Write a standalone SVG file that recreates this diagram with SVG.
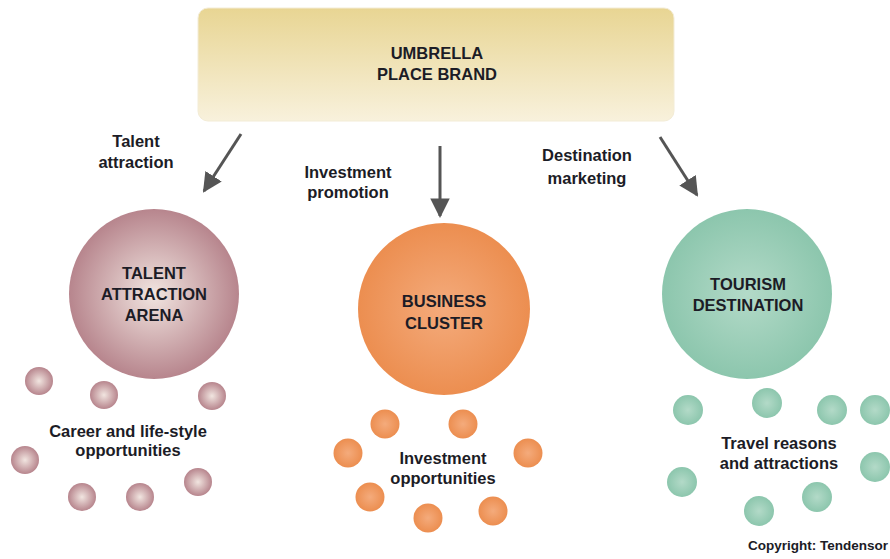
<svg xmlns="http://www.w3.org/2000/svg" width="890" height="559" viewBox="0 0 890 559">
  <defs>
    <linearGradient id="brandFill" x1="0" y1="0" x2="0" y2="1">
      <stop offset="0" stop-color="#e8d593"/>
      <stop offset="1" stop-color="#f8f1dc"/>
    </linearGradient>
    <radialGradient id="mauveFill" cx="0.5" cy="0.5" r="0.5">
      <stop offset="0" stop-color="#f1e5e0"/>
      <stop offset="1" stop-color="#b7858d"/>
    </radialGradient>
    <radialGradient id="orangeFill" cx="0.5" cy="0.5" r="0.5">
      <stop offset="0" stop-color="#f4ab7c"/>
      <stop offset="1" stop-color="#ec8e50"/>
    </radialGradient>
    <radialGradient id="greenFill" cx="0.5" cy="0.5" r="0.5">
      <stop offset="0" stop-color="#b3dac8"/>
      <stop offset="1" stop-color="#8cc6ad"/>
    </radialGradient>
    <marker id="arrowHead" viewBox="0 0 10 10" refX="9" refY="5" markerWidth="6.5" markerHeight="6.5" markerUnits="strokeWidth" orient="auto">
      <path d="M0,0 L10,5 L0,10 z" fill="#555"/>
    </marker>
  </defs>
  <style>
    text { font-family: "Liberation Sans", Arial, sans-serif; font-weight: bold; fill: #1c1c26; text-anchor: middle; }
    .t { font-size: 16.5px; }
    .small { font-size: 13.5px; text-anchor: end; }
    .conn { stroke: #555; stroke-width: 3; fill: none; marker-end: url(#arrowHead); }
    .dot-m { fill: url(#mauveFill); }
    .dot-o { fill: url(#orangeFill); }
    .dot-g { fill: url(#greenFill); }
  </style>

  <rect width="890" height="559" fill="#ffffff"/>

  <!-- umbrella brand box -->
  <g id="umbrella">
    <rect x="198" y="8" width="476" height="113" rx="10" fill="url(#brandFill)" stroke="#f3ecd6" stroke-width="1"/>
    <text class="t" x="437" y="59">UMBRELLA</text>
    <text class="t" x="437" y="80">PLACE BRAND</text>
  </g>

  <!-- connectors -->
  <g id="connectors">
    <line class="conn" x1="241" y1="134" x2="204" y2="191"/>
    <line class="conn" x1="440" y1="146" x2="440" y2="216"/>
    <line class="conn" x1="660" y1="137" x2="697" y2="195"/>
    <text class="t" x="136" y="147">Talent</text>
    <text class="t" x="136" y="168">attraction</text>
    <text class="t" x="348" y="178">Investment</text>
    <text class="t" x="348" y="198">promotion</text>
    <text class="t" x="587" y="161">Destination</text>
    <text class="t" x="587" y="184">marketing</text>
  </g>

  <!-- talent attraction arena -->
  <g id="talent">
    <circle cx="154" cy="294" r="85" fill="url(#mauveFill)"/>
    <text class="t" x="154" y="279">TALENT</text>
    <text class="t" x="154" y="300">ATTRACTION</text>
    <text class="t" x="154" y="321">ARENA</text>
  </g>

  <!-- business cluster -->
  <g id="business">
    <circle cx="444" cy="309" r="86" fill="url(#orangeFill)"/>
    <text class="t" x="444" y="307">BUSINESS</text>
    <text class="t" x="444" y="329">CLUSTER</text>
  </g>

  <!-- tourism destination -->
  <g id="tourism">
    <circle cx="747" cy="294" r="85" fill="url(#greenFill)"/>
    <text class="t" x="748" y="290">TOURISM</text>
    <text class="t" x="748" y="311">DESTINATION</text>
  </g>

  <!-- career and life-style opportunities -->
  <g id="career">
    <circle class="dot-m" cx="39" cy="381" r="14"/>
    <circle class="dot-m" cx="104" cy="395" r="14"/>
    <circle class="dot-m" cx="212" cy="396" r="14"/>
    <circle class="dot-m" cx="25" cy="460" r="14"/>
    <circle class="dot-m" cx="82" cy="497" r="14"/>
    <circle class="dot-m" cx="140" cy="497" r="14"/>
    <circle class="dot-m" cx="198" cy="482" r="14"/>
    <text class="t" x="128" y="437">Career and life-style</text>
    <text class="t" x="128" y="456">opportunities</text>
  </g>

  <!-- investment opportunities -->
  <g id="investment">
    <circle class="dot-o" cx="385" cy="424" r="14.5"/>
    <circle class="dot-o" cx="463" cy="424" r="14.5"/>
    <circle class="dot-o" cx="348" cy="453" r="14.5"/>
    <circle class="dot-o" cx="528" cy="453" r="14.5"/>
    <circle class="dot-o" cx="370" cy="497" r="14.5"/>
    <circle class="dot-o" cx="428" cy="518" r="14.5"/>
    <circle class="dot-o" cx="493" cy="511" r="14.5"/>
    <text class="t" x="443" y="464">Investment</text>
    <text class="t" x="443" y="484">opportunities</text>
  </g>

  <!-- travel reasons and attractions -->
  <g id="travel">
    <circle class="dot-g" cx="688" cy="410" r="15"/>
    <circle class="dot-g" cx="767" cy="403" r="15"/>
    <circle class="dot-g" cx="832" cy="410" r="15"/>
    <circle class="dot-g" cx="875" cy="410" r="15"/>
    <circle class="dot-g" cx="875" cy="467" r="15"/>
    <circle class="dot-g" cx="682" cy="482" r="15"/>
    <circle class="dot-g" cx="817" cy="497" r="15"/>
    <circle class="dot-g" cx="759" cy="511" r="15"/>
    <text class="t" x="779" y="449">Travel reasons</text>
    <text class="t" x="779" y="469">and attractions</text>
  </g>

  <text class="small" x="888" y="550">Copyright: Tendensor</text>
</svg>
